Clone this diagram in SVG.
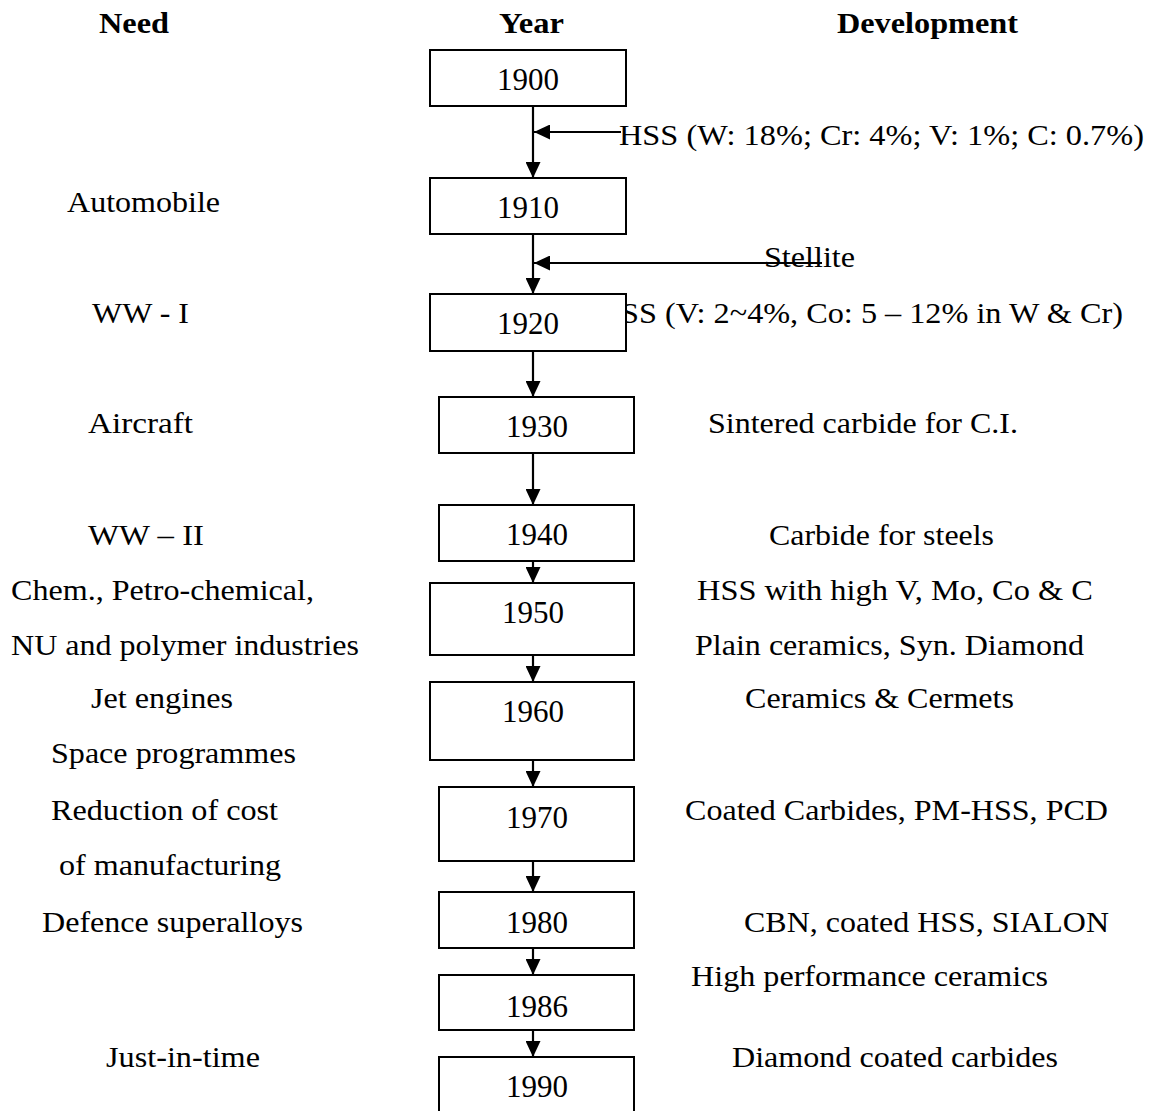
<svg xmlns="http://www.w3.org/2000/svg" width="1152" height="1111" viewBox="0 0 1152 1111">
  <style>
    text { font-family: "Liberation Serif", "Times New Roman", serif; font-size: 30px; fill: #000; }
    .head { font-weight: bold; }
    .yr { text-anchor: middle; font-size: 31px; }
    .box { fill: #fff; stroke: #000; stroke-width: 2; }
    .link { stroke: #000; stroke-width: 2.2; fill: none; marker-end: url(#arrow); }
  </style>
  <defs>
    <marker id="arrow" markerUnits="userSpaceOnUse" markerWidth="16" markerHeight="15" refX="16" refY="7.5" orient="auto">
      <path d="M0,0 L16,7.5 L0,15 z" fill="#000"/>
    </marker>
  </defs>

  <rect width="1152" height="1111" fill="#fff"/>

  <!-- column headings -->
  <g id="headings">
    <text class="head" x="99" y="33" textLength="70" lengthAdjust="spacingAndGlyphs">Need</text>
    <text class="head" x="499" y="33" textLength="65" lengthAdjust="spacingAndGlyphs">Year</text>
    <text class="head" x="837" y="33" textLength="181" lengthAdjust="spacingAndGlyphs">Development</text>
  </g>

  <!-- needs (left column) -->
  <g id="needs">
    <text x="67" y="212" textLength="153" lengthAdjust="spacingAndGlyphs">Automobile</text>
    <text x="92" y="323" textLength="97" lengthAdjust="spacingAndGlyphs">WW - I</text>
    <text x="88" y="433" textLength="105" lengthAdjust="spacingAndGlyphs">Aircraft</text>
    <text x="88" y="545" textLength="116" lengthAdjust="spacingAndGlyphs">WW – II</text>
    <text x="11" y="600" textLength="303" lengthAdjust="spacingAndGlyphs">Chem., Petro-chemical,</text>
    <text x="11" y="655" textLength="348" lengthAdjust="spacingAndGlyphs">NU and polymer industries</text>
    <text x="91" y="708" textLength="142" lengthAdjust="spacingAndGlyphs">Jet engines</text>
    <text x="51" y="763" textLength="245" lengthAdjust="spacingAndGlyphs">Space programmes</text>
    <text x="51" y="820" textLength="227" lengthAdjust="spacingAndGlyphs">Reduction of cost</text>
    <text x="59" y="875" textLength="222" lengthAdjust="spacingAndGlyphs">of manufacturing</text>
    <text x="42" y="932" textLength="261" lengthAdjust="spacingAndGlyphs">Defence superalloys</text>
    <text x="106" y="1067" textLength="154" lengthAdjust="spacingAndGlyphs">Just-in-time</text>
  </g>

  <!-- developments (right column) -->
  <g id="developments">
    <text x="619" y="145" textLength="525" lengthAdjust="spacingAndGlyphs">HSS (W: 18%; Cr: 4%; V: 1%; C: 0.7%)</text>
    <text x="764" y="267" textLength="91" lengthAdjust="spacingAndGlyphs">Stellite</text>
    <text x="621" y="323" textLength="502" lengthAdjust="spacingAndGlyphs">SS (V: 2~4%, Co: 5 – 12% in W &amp; Cr)</text>
    <text x="708" y="433" textLength="310" lengthAdjust="spacingAndGlyphs">Sintered carbide for C.I.</text>
    <text x="769" y="545" textLength="225" lengthAdjust="spacingAndGlyphs">Carbide for steels</text>
    <text x="697" y="600" textLength="396" lengthAdjust="spacingAndGlyphs">HSS with high V, Mo, Co &amp; C</text>
    <text x="695" y="655" textLength="389" lengthAdjust="spacingAndGlyphs">Plain ceramics, Syn. Diamond</text>
    <text x="745" y="708" textLength="269" lengthAdjust="spacingAndGlyphs">Ceramics &amp; Cermets</text>
    <text x="685" y="820" textLength="423" lengthAdjust="spacingAndGlyphs">Coated Carbides, PM-HSS, PCD</text>
    <text x="744" y="932" textLength="365" lengthAdjust="spacingAndGlyphs">CBN, coated HSS, SIALON</text>
    <text x="691" y="986" textLength="357" lengthAdjust="spacingAndGlyphs">High performance ceramics</text>
    <text x="732" y="1067" textLength="326" lengthAdjust="spacingAndGlyphs">Diamond coated carbides</text>
  </g>

  <!-- connectors -->
  <g id="connectors">
    <line class="link" x1="533" y1="106" x2="533" y2="178"/>
    <line class="link" x1="533" y1="234" x2="533" y2="294"/>
    <line class="link" x1="533" y1="351" x2="533" y2="397"/>
    <line class="link" x1="533" y1="453" x2="533" y2="505"/>
    <line class="link" x1="533" y1="561" x2="533" y2="583"/>
    <line class="link" x1="533" y1="655" x2="533" y2="682"/>
    <line class="link" x1="533" y1="760" x2="533" y2="787"/>
    <line class="link" x1="533" y1="861" x2="533" y2="892"/>
    <line class="link" x1="533" y1="948" x2="533" y2="975"/>
    <line class="link" x1="533" y1="1030" x2="533" y2="1057"/>
    <line class="link" x1="621" y1="132" x2="534" y2="132"/>
    <line class="link" x1="822" y1="263" x2="534" y2="263"/>
  </g>

  <!-- year nodes -->
  <g id="y1900"><rect class="box" x="430" y="50" width="196" height="56"/><text class="yr" x="528" y="90">1900</text></g>
  <g id="y1910"><rect class="box" x="430" y="178" width="196" height="56"/><text class="yr" x="528" y="218">1910</text></g>
  <g id="y1920"><rect class="box" x="430" y="294" width="196" height="57"/><text class="yr" x="528" y="334">1920</text></g>
  <g id="y1930"><rect class="box" x="439" y="397" width="195" height="56"/><text class="yr" x="537" y="437">1930</text></g>
  <g id="y1940"><rect class="box" x="439" y="505" width="195" height="56"/><text class="yr" x="537" y="545">1940</text></g>
  <g id="y1950"><rect class="box" x="430" y="583" width="204" height="72"/><text class="yr" x="533" y="623">1950</text></g>
  <g id="y1960"><rect class="box" x="430" y="682" width="204" height="78"/><text class="yr" x="533" y="722">1960</text></g>
  <g id="y1970"><rect class="box" x="439" y="787" width="195" height="74"/><text class="yr" x="537" y="828">1970</text></g>
  <g id="y1980"><rect class="box" x="439" y="892" width="195" height="56"/><text class="yr" x="537" y="933">1980</text></g>
  <g id="y1986"><rect class="box" x="439" y="975" width="195" height="55"/><text class="yr" x="537" y="1017">1986</text></g>
  <g id="y1990"><rect class="box" x="439" y="1057" width="195" height="56"/><text class="yr" x="537" y="1097">1990</text></g>
</svg>
